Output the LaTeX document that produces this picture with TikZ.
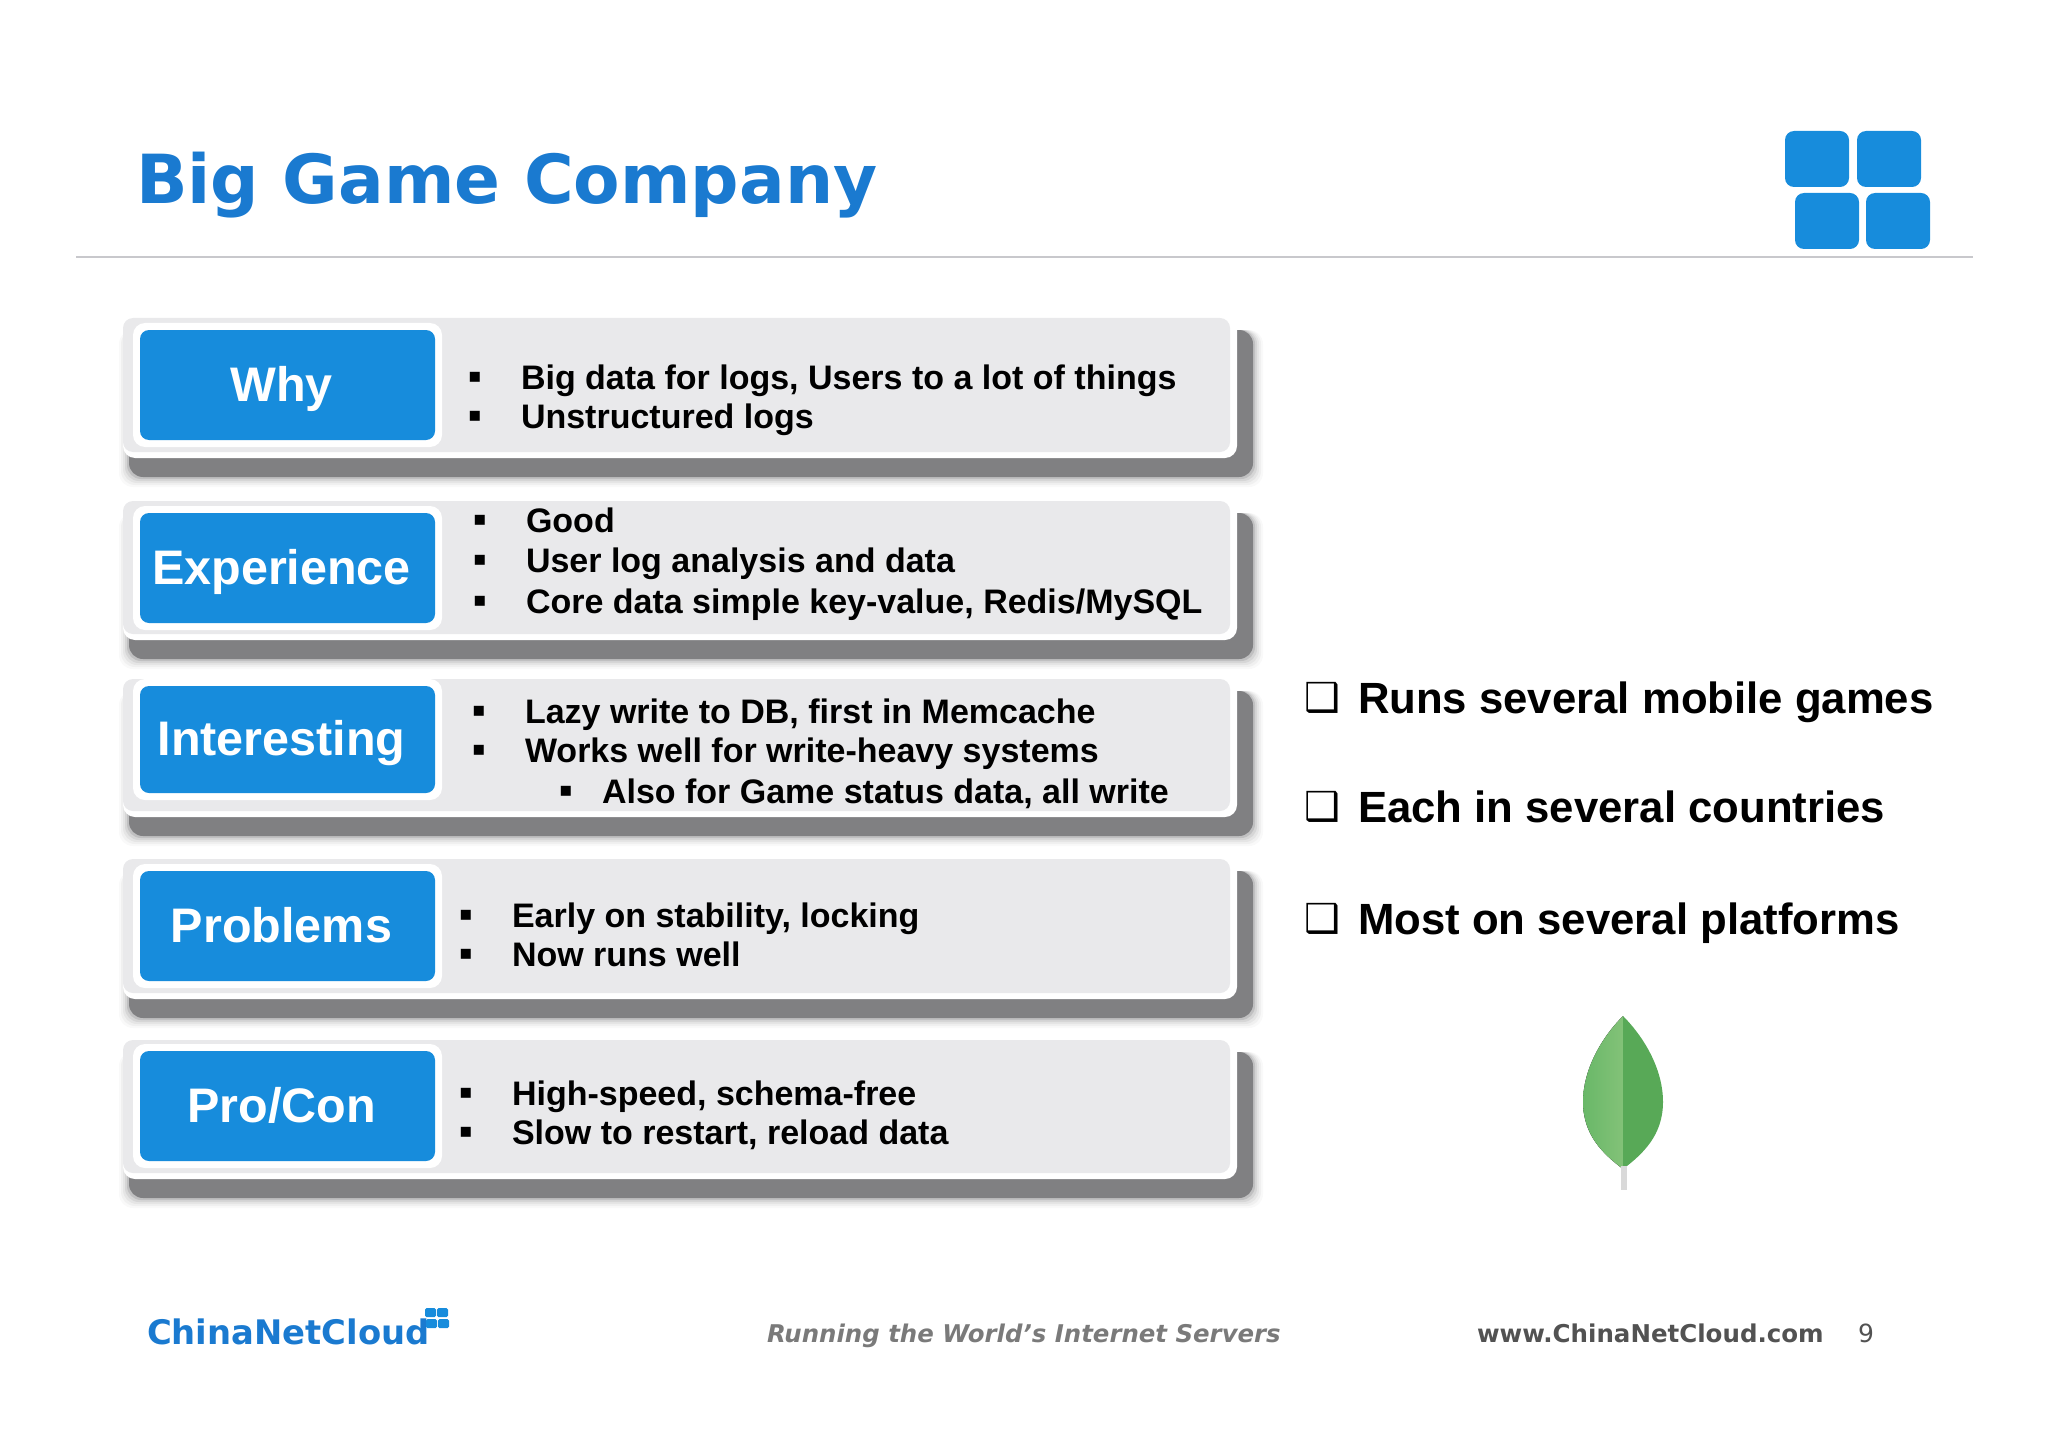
\documentclass[tikz,border=0pt]{standalone}
\usepackage{fontspec}
\setmainfont{Liberation Sans}
\newfontfamily\slidefont{DejaVu Sans}
\usetikzlibrary{positioning}
\definecolor{slideblue}{HTML}{1A7AD0}
\definecolor{boxblue}{HTML}{178CDC}
\definecolor{panelgray}{HTML}{E9E9EB}
\definecolor{shadowgray}{HTML}{808082}
\definecolor{rulegray}{HTML}{C8C8CC}
\definecolor{leafleft}{HTML}{69B868}
\definecolor{leafmid}{HTML}{83C278}
\definecolor{leafright}{HTML}{58A957}

\begin{document}
\begin{tikzpicture}[x=1pt,y=-1pt,
	every node/.style={inner sep=0pt,outer sep=0pt},
	headtext/.style={anchor=base,text=white,font=\bfseries\fontsize{48.5}{48.5}\selectfont},
	itemtext/.style={anchor=base west,font=\bfseries\fontsize{34}{34}\selectfont},
	itembullet/.style={anchor=base,yshift=7pt,font=\slidefont\fontsize{20}{20}\selectfont},
	sidetext/.style={anchor=base west,font=\bfseries\fontsize{43.7}{43.7}\selectfont},
	sidebullet/.style={anchor=base,yshift=2pt,font=\slidefont\bfseries\fontsize{40}{40}\selectfont},
	logobox/.style={fill=boxblue,rounded corners=9pt}]

\useasboundingbox (0,0) rectangle (2048,1447);

% title
\node[anchor=base west,text=slideblue,font=\slidefont\bfseries\fontsize{67.7}{67.7}\selectfont](title) at (136,204) {Big Game Company};
\coordinate (ruleleft) at (76,257);
\coordinate (ruleright) at (1973,257);
\draw[rulegray,line width=1.5pt] (ruleleft) -- (ruleright);

% logo
\foreach \name/\xa/\ya/\xb/\yb in {lognw/1785/131/1849/187, logne/1857/131/1921/187, logsw/1795/193/1859/249, logse/1866/193/1930/249}
\fill[logobox] (\xa,\ya) rectangle (\xb,\yb);

% panels
\foreach \name/\ytop/\ybot/\ltop/\lbot/\text in {why/318/458/330/440/Why, exp/501/640/513/623/Experience, int/679/817/686/793/Interesting, prob/859/999/871/981/Problems, pro/1040/1179/1051/1161/{Pro/Con}}
{
	\foreach \grow/\op in {9/0.05,7/0.07,5/0.1,3/0.15,1/0.25,-1/1}
		\fill[shadowgray,opacity=\op,rounded corners=14pt] (128-\grow,\ytop+12) rectangle (1254+\grow,\ybot+20+\grow);
	\fill[white,rounded corners=12pt] (123,\ytop) rectangle (1237,\ybot);
	\fill[panelgray,rounded corners=10pt] (123,\ytop) rectangle (1230,\ybot-6);
	\fill[white,rounded corners=12pt] (133,\ltop-7) rectangle (442,\lbot+7);
	\fill[logobox] (140,\ltop) rectangle (435,\lbot);
	\node[headtext](\name) at (281.5,\ltop/2+\lbot/2+16) {\text};
}

% panel items
\foreach \name/\xb/\xt/\ypos/\text in {
	whya/475/521/389/{Big data for logs, Users to a lot of things},
	whyb/475/521/428/Unstructured logs,
	expa/480/526/532/Good,
	expb/480/526/572/User log analysis and data,
	expc/480/526/613/{Core data simple key-value, Redis/MySQL},
	inta/479/525/723/{Lazy write to DB, first in Memcache},
	intb/479/525/762/Works well for write-heavy systems,
	intc/566/602/803/{Also for Game status data, all write},
	proba/466/512/927/{Early on stability, locking},
	probb/466/512/966/Now runs well,
	proa/466/512/1105/{High-speed, schema-free},
	prob/466/512/1144/{Slow to restart, reload data}}
{
	\node[itembullet](\name b) at (\xb,\ypos) {▪};
	\node[itemtext](\name) at (\xt,\ypos) {\text};
}

% right side
\foreach \name/\ypos/\text in {runs/713/Runs several mobile games, each/822/Each in several countries, most/934/Most on several platforms}
{
	\node[sidebullet](\name b) at (1322,\ypos) {❑};
	\node[sidetext](\name) at (1358,\ypos) {\text};
}

% leaf
\fill[left color=leafleft,right color=leafmid] (1623,1016) .. controls (1603,1036) and (1583,1068) .. (1583,1102) .. controls (1583,1135) and (1603,1154) .. (1623,1169) -- cycle;
\fill[leafright] (1623,1016) .. controls (1643,1036) and (1663,1068) .. (1663,1102) .. controls (1663,1135) and (1643,1154) .. (1623,1169) -- cycle;
\fill[black!15] (1621,1166) rectangle (1627,1190);

% footer
\node[anchor=base west,text=slideblue,font=\slidefont\bfseries\fontsize{33.8}{33.8}\selectfont](brand) at (147,1344) {ChinaNetCloud};
\foreach \xa/\ya/\xb/\yb in {425/1308/436/1317, 437/1308/448/1317, 426/1319/437/1328, 438/1319/449/1328}
\fill[boxblue,rounded corners=1.5pt] (\xa,\ya) rectangle (\xb,\yb);
\node[anchor=base west,text=black!52,font=\slidefont\bfseries\itshape\fontsize{24.4}{24.4}\selectfont](motto) at (767,1342) {Running the World’s Internet Servers};
\node[anchor=base west,text=black!68,font=\slidefont\bfseries\fontsize{24.5}{24.5}\selectfont](site) at (1477,1342) {www.ChinaNetCloud.com};
\node[anchor=base west,text=black!68,font=\slidefont\fontsize{25}{25}\selectfont](page) at (1858,1342) {9};
\end{tikzpicture}
\end{document}
